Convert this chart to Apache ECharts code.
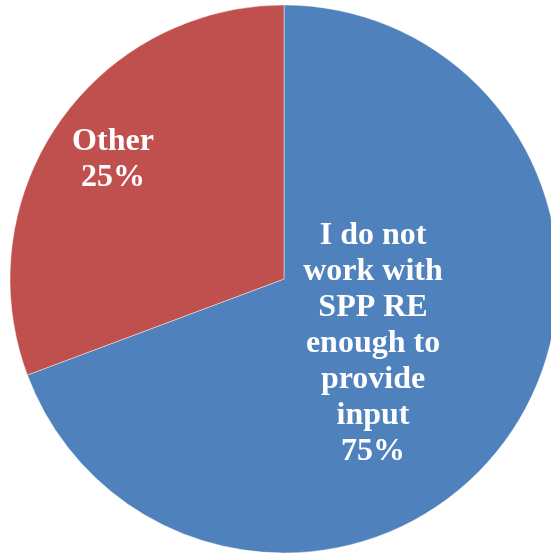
<!DOCTYPE html>
<html>
<head>
<meta charset="utf-8">
<script src="https://cdn.jsdelivr.net/npm/echarts@6/dist/echarts.min.js"></script>
<style>
html,body{margin:0;padding:0;background:#fff;}
#chart{width:551px;height:554px;}
</style>
</head>
<body>
<div id="chart"></div>
<script>
// Categories (label text lines as shown), slice sizes as drawn, and printed percentage labels
const categories = ['I do not\nwork with\nSPP RE\nenough to\nprovide\ninput', 'Other'];
const sliceValues = [69.3, 30.7];
const percentLabels = ['75%', '25%'];
const sliceColors = ['#4F81BD', '#C0504D'];
const labelOffsets = [[-26, -15], [-56, -39]];

const chart = echarts.init(document.getElementById('chart'), null, {renderer: 'canvas'});
chart.setOption({
  animation: false,
  backgroundColor: '#ffffff',
  series: [{
    type: 'pie',
    center: [284, 279],
    radius: 274,
    startAngle: 90,
    clockwise: true,
    avoidLabelOverlap: false,
    label: {
      show: true,
      position: 'inside',
      color: '#ffffff',
      fontFamily: 'Liberation Serif',
      fontWeight: 'bold',
      fontSize: 32,
      lineHeight: 36,
      align: 'center',
      formatter: function (p) { return p.name + '\n' + percentLabels[p.dataIndex]; }
    },
    labelLine: {show: false},
    emphasis: {disabled: true},
    itemStyle: {borderColor: 'rgba(255,255,255,0.55)', borderWidth: 0.8},
    data: categories.map(function (c, i) {
      return {
        name: c,
        value: sliceValues[i],
        itemStyle: {color: sliceColors[i]},
        label: {offset: labelOffsets[i]}
      };
    })
  }]
});
</script>
</body>
</html>
